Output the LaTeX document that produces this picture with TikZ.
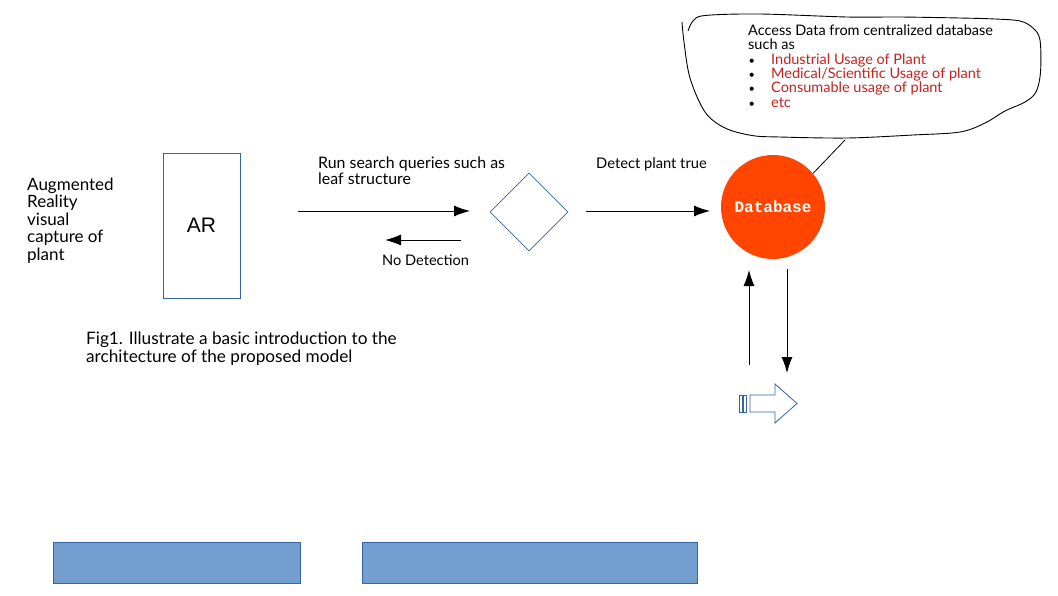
\documentclass[tikz,border=0pt]{standalone}
\usepackage{fontspec}
\setmainfont{Lato}
\newfontfamily\arfont{Liberation Sans}
\newfontfamily\dbfont{Liberation Mono}
\usetikzlibrary{arrows.meta,shapes.geometric,calc}
\definecolor{lineblue}{RGB}{52,101,164}
\definecolor{barfill}{RGB}{114,159,207}
\definecolor{dbfill}{RGB}{255,69,0}
\definecolor{dred}{RGB}{201,33,30}
\newcommand{\bul}[1]{\makebox[23pt][l]{\hspace{0.5pt}{\fontsize{11}{11}\selectfont\textbullet}}\textcolor{dred}{#1}}
\begin{document}
\begin{tikzpicture}[x=1pt,y=-1pt,
  arr/.style={-{Latex[length=16pt,width=11pt]}, line width=1pt},
  txt/.style={inner sep=0pt, anchor=north west, align=left},
  bluebox/.style={draw=lineblue, line width=0.9pt},
  bar/.style={fill=barfill, draw=lineblue, line width=0.6pt}]
\useasboundingbox[fill=white] (0,0) rectangle (1058,595);

% left label
\node[txt, font=\fontsize{17}{17.5}\selectfont] (lbl) at (27,177.5)
  {Augmented\\Reality\\visual\\capture of\\plant};

% AR box
\node[bluebox, minimum width=77, minimum height=145, inner sep=0,
  font=\arfont\fontsize{21}{21}\selectfont] (ar) at (201.5,225.5) {AR};

% diamond
\node[diamond, draw=lineblue, line width=0.8pt, minimum width=78, minimum height=78,
  inner sep=0] (dia) at (529,212) {};

% database
\node[circle, fill=dbfill, minimum size=104, inner sep=0,
  font=\dbfont\bfseries\fontsize{16}{16}\selectfont, text=white] (db) at (773,207) {Database};

% texts
\node[txt, font=\fontsize{15.9}{16}\selectfont] (run) at (318,157)
  {Run search queries such as\\leaf structure};
\node[txt, font=\fontsize{14.6}{15}\selectfont] (nodet) at (382,254.5) {No Detection};
\node[txt, font=\fontsize{14.7}{15}\selectfont] (detect) at (596,157) {Detect plant true};
\node[txt, font=\fontsize{17.2}{17.5}\selectfont] (fig) at (86,332)
  {Fig1. Illustrate a basic introduction to the\\architecture of the proposed model};

% arrows
\coordinate (a1s) at (298,211);
\coordinate (a1e) at (470,211);
\coordinate (a2s) at (461,240);
\coordinate (a2e) at (385,240);
\coordinate (a3s) at (586,211);
\coordinate (a3e) at (710,211);
\coordinate (upS) at (749,365);
\coordinate (upE) at (749,270);
\coordinate (dnS) at (787,269);
\coordinate (dnE) at (787,373);
\draw[arr] (a1s) -- (a1e);
\draw[arr] (a2s) -- (a2e);
\draw[arr] (a3s) -- (a3e);
\draw[arr] (upS) -- (upE);
\draw[arr] (dnS) -- (dnE);

% callout
\draw[line width=0.9pt] plot[smooth, tension=0.55] coordinates {
  (688,31) (693,21) (705,15.5) (760,14) (847,17) (900,17) (960,18) (995,19)
  (1020,21) (1033,28) (1040,40) (1040.5,72) (1036,92) (1025,102) (1005,111)
  (985,123) (960,132) (913,135) (847,138) (780,137) (752,135.5) (725,128)
  (705,112) (690,78) (684,42) (682,22)};
\coordinate (tail) at (845,140);
\draw[line width=0.8pt] (tail) -- (db.40);
\node[txt, font=\fontsize{14.5}{14.4}\selectfont] (call) at (748,24.5)
  {Access Data from centralized database\\such as\\
   \bul{Industrial Usage of Plant}\\
   \bul{Medical/Scientific Usage of plant}\\
   \bul{Consumable usage of plant}\\
   \bul{etc}};

% striped hollow arrow
\draw[lineblue, line width=0.8pt] (750,395) -- (775,395) -- (775,384) -- (797,403.5)
  -- (775,423) -- (775,412) -- (750,412) -- cycle;
\draw[lineblue, line width=0.8pt] (739,395) rectangle (742.3,412);
\draw[lineblue, line width=0.8pt] (743.5,395) rectangle (746.7,412);

% bars
\node[bar, minimum width=247, minimum height=41, inner sep=0] (bar1) at (176.5,562.5) {};
\node[bar, minimum width=335, minimum height=41, inner sep=0] (bar2) at (529.5,562.5) {};
\end{tikzpicture}
\end{document}
